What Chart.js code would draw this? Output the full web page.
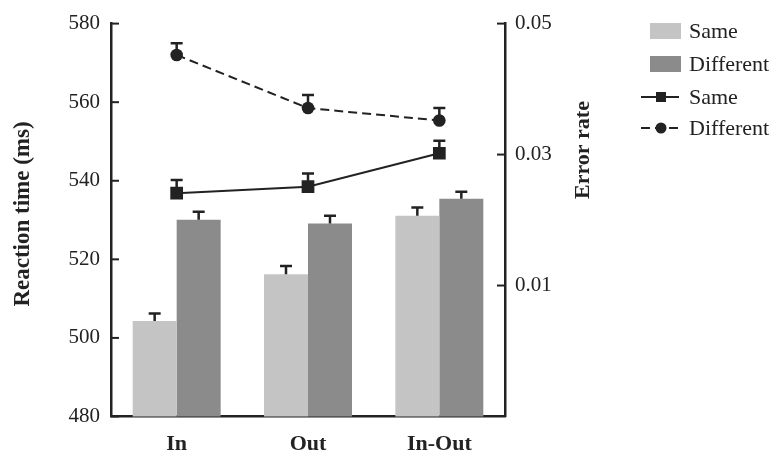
<!DOCTYPE html>
<html>
<head>
<meta charset="utf-8">
<script src="https://cdn.jsdelivr.net/npm/chart.js@4.4.1/dist/chart.umd.min.js"></script>
<style>
  html, body { margin: 0; padding: 0; background: #fff; }
  #wrap { width: 778px; height: 455px; }
</style>
</head>
<body>
<div id="wrap"><canvas id="rtChart" width="778" height="455"></canvas></div>
<script>
// conditions on the x axis
const categories = ['In', 'Out', 'In-Out'];

// reaction times (ms), bars, left axis
const rtSame = [504.3, 516.2, 531.1];
const rtDifferent = [530.1, 529.1, 535.4];
const rtSameErr = [1.9, 2.1, 2.1];
const rtDifferentErr = [2.0, 2.0, 1.8];

// error rates, lines, right axis
const errSame = [0.0241, 0.0251, 0.0302];
const errDifferent = [0.0452, 0.0371, 0.0352];
const errSameSe = [0.0020, 0.0020, 0.0019];
const errDifferentSe = [0.0018, 0.0020, 0.0019];

const errTicks = [0.01, 0.03, 0.05];

const ink = '#222';
const serif = "'Liberation Serif', 'Times New Roman', serif";

// upward error bars with a cap, drawn right after each dataset
const errorBars = {
    id: 'errorBars',
    afterDatasetDraw(chart, args) {
        const ds = chart.data.datasets[args.index];
        if (!ds.errors) return;
        const scale = chart.scales[ds.yAxisID || 'y'];
        const ctx = chart.ctx;
        ctx.save();
        ctx.strokeStyle = ink;
        ctx.lineWidth = 2.5;
        args.meta.data.forEach((el, i) => {
            const yTop = scale.getPixelForValue(ds.data[i] + ds.errors[i]);
            const yMid = scale.getPixelForValue(ds.data[i]);
            ctx.beginPath();
            ctx.moveTo(el.x, yMid);
            ctx.lineTo(el.x, yTop);
            ctx.moveTo(el.x - 6, yTop);
            ctx.lineTo(el.x + 6, yTop);
            ctx.stroke();
        });
        ctx.restore();
    }
};

// inward tick marks, axis titles and the legend block on the right
const decorations = {
    id: 'decorations',
    afterDraw(chart) {
        const ctx = chart.ctx;
        const area = chart.chartArea;
        const yL = chart.scales.y;
        const yR = chart.scales.y1;
        ctx.save();
        ctx.strokeStyle = ink;
        ctx.lineWidth = 2;
        yL.ticks.forEach(t => {
            const p = yL.getPixelForValue(t.value);
            ctx.beginPath();
            ctx.moveTo(area.left, p);
            ctx.lineTo(area.left + 8, p);
            ctx.stroke();
        });
        yR.ticks.forEach(t => {
            const p = yR.getPixelForValue(t.value);
            ctx.beginPath();
            ctx.moveTo(area.right - 8, p);
            ctx.lineTo(area.right, p);
            ctx.stroke();
        });

        // axis titles
        ctx.fillStyle = ink;
        ctx.textAlign = 'center';
        ctx.textBaseline = 'middle';
        ctx.save();
        ctx.translate(23, 214);
        ctx.rotate(-Math.PI / 2);
        ctx.font = 'bold 23px ' + serif;
        ctx.fillText('Reaction time (ms)', 0, 0);
        ctx.restore();
        ctx.save();
        ctx.translate(583, 150);
        ctx.rotate(-Math.PI / 2);
        ctx.font = 'bold 22px ' + serif;
        ctx.fillText('Error rate', 0, 0);
        ctx.restore();

        // legend
        const ds = chart.data.datasets;
        ctx.font = '22px ' + serif;
        ctx.textAlign = 'left';
        const rows = [31, 64, 97, 128];
        ds.forEach((d, i) => {
            const y = rows[i];
            if (d.type === 'bar') {
                ctx.fillStyle = d.backgroundColor;
                ctx.fillRect(650, y - 8, 31, 16);
            } else {
                ctx.strokeStyle = d.borderColor;
                ctx.lineWidth = 2;
                ctx.setLineDash(d.borderDash || []);
                ctx.beginPath();
                ctx.moveTo(641, y);
                ctx.lineTo(679, y);
                ctx.stroke();
                ctx.setLineDash([]);
                ctx.fillStyle = d.pointBackgroundColor;
                if (d.pointStyle === 'rect') {
                    ctx.fillRect(656, y - 5, 10, 10);
                } else {
                    ctx.beginPath();
                    ctx.arc(661, y, 5.5, 0, Math.PI * 2);
                    ctx.fill();
                }
            }
            ctx.fillStyle = ink;
            ctx.fillText(d.label, 689, y + 1);
        });
        ctx.restore();
    }
};

new Chart(document.getElementById('rtChart'), {
    data: {
        labels: categories,
        datasets: [
            {
                type: 'bar', label: 'Same', data: rtSame, errors: rtSameErr,
                backgroundColor: '#c4c4c4', yAxisID: 'y', order: 2
            },
            {
                type: 'bar', label: 'Different', data: rtDifferent, errors: rtDifferentErr,
                backgroundColor: '#8b8b8b', yAxisID: 'y', order: 2
            },
            {
                type: 'line', label: 'Same', data: errSame, errors: errSameSe,
                yAxisID: 'y1', order: 1,
                borderColor: ink, borderWidth: 2,
                pointStyle: 'rect', pointRadius: 9, pointHoverRadius: 9,
                pointBackgroundColor: ink, pointBorderWidth: 0
            },
            {
                type: 'line', label: 'Different', data: errDifferent, errors: errDifferentSe,
                yAxisID: 'y1', order: 1,
                borderColor: ink, borderWidth: 2, borderDash: [9, 5],
                pointStyle: 'circle', pointRadius: 6.3, pointHoverRadius: 6.3,
                pointBackgroundColor: ink, pointBorderWidth: 0
            }
        ]
    },
    options: {
        responsive: false,
        animation: false,
        layout: { padding: { top: 22.5, left: 0, right: 0, bottom: 0 } },
        datasets: {
            bar: { barPercentage: 1, categoryPercentage: 0.67 }
        },
        plugins: {
            legend: { display: false },
            tooltip: { enabled: false }
        },
        scales: {
            x: {
                grid: { display: false },
                border: { display: true, color: ink, width: 2.5 },
                ticks: {
                    color: ink, padding: 7,
                    font: { family: serif, size: 22, weight: 'bold' }
                },
                afterFit(scale) { scale.height = 38.5; }
            },
            y: {
                position: 'left',
                min: 480, max: 580,
                grid: { drawOnChartArea: false, drawTicks: false },
                border: { display: true, color: ink, width: 2.5 },
                ticks: {
                    stepSize: 20, color: ink, padding: 11,
                    font: { family: serif, size: 21 }
                },
                afterFit(scale) { scale.width = 111; }
            },
            y1: {
                position: 'right',
                min: -0.01, max: 0.05,
                grid: { drawOnChartArea: false, drawTicks: false },
                border: { display: true, color: ink, width: 2.5 },
                afterBuildTicks(scale) {
                    scale.ticks = errTicks.map(v => ({ value: v }));
                },
                ticks: {
                    color: ink, padding: 10,
                    font: { family: serif, size: 21 },
                    callback: v => v.toFixed(2)
                },
                afterFit(scale) { scale.width = 273; }
            }
        }
    },
    plugins: [errorBars, decorations]
});
</script>
</body>
</html>
